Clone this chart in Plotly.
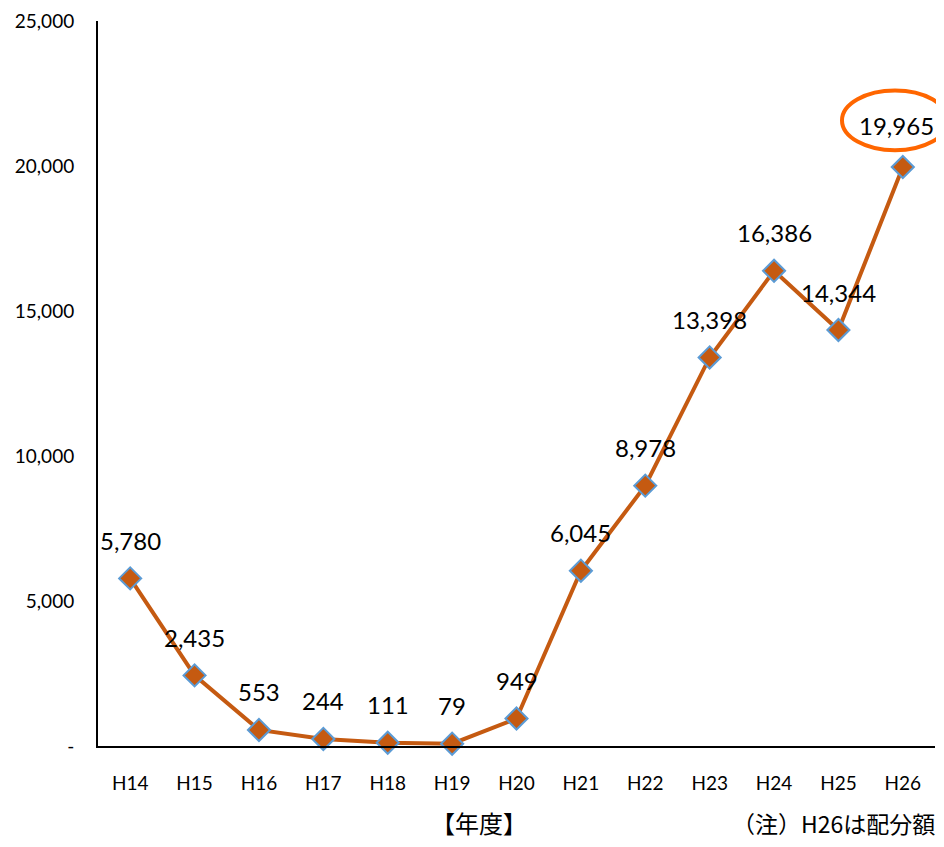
import plotly.graph_objects as go

years = ["H14", "H15", "H16", "H17", "H18", "H19", "H20", "H21", "H22", "H23", "H24", "H25", "H26"]
values = [5780, 2435, 553, 244, 111, 79, 949, 6045, 8978, 13398, 16386, 14344, 19965]
y_ticks = [0, 5000, 10000, 15000, 20000, 25000]
y_tick_labels = ["-", "5,000", "10,000", "15,000", "20,000", "25,000"]

# plot area in page pixels (figure is drawn with an 8px body margin)
PL, PR, PT, PB = 98, 935, 17, 746
PW, PH = PR - PL, PB - PT

fig = go.Figure()
fig.add_trace(go.Scatter(
    x=years, y=values, mode="lines+markers",
    line=dict(color="#C55A11", width=4),
    marker=dict(symbol="diamond", size=17, color="#C55A11",
                line=dict(color="#5B9BD5", width=2)),
    hoverinfo="skip", showlegend=False, cliponaxis=False,
))

for i, (yr, v) in enumerate(zip(years, values)):
    last = i == len(values) - 1
    fig.add_annotation(
        x=yr, y=v, text=f"{v:,}", showarrow=False,
        yshift=42 if last else 38, xshift=-6 if last else 0,
        font=dict(family="Lato, Noto Sans", size=24, color="#000000"),
    )

fig.add_shape(type="circle", xref="paper", yref="paper",
              x0=(842 - PL) / PW, x1=(948 - PL) / PW,
              y0=(PB - 147) / PH, y1=(PB - 87) / PH,
              line=dict(color="#FF6600", width=4))

fig.add_annotation(xref="paper", yref="paper", x=(479 - PL) / PW, y=(PB - 823) / PH,
                   text="【年度】", showarrow=False, xanchor="center", yanchor="middle",
                   font=dict(family="Noto Sans CJK JP", size=24, color="#000000"))
fig.add_annotation(xref="paper", yref="paper", x=(937 - PL) / PW, y=(PB - 823) / PH,
                   text="（注）H26は配分額", showarrow=False, xanchor="right", yanchor="middle",
                   font=dict(family="Noto Sans CJK JP", size=23, color="#000000"))

fig.update_layout(
    width=928, height=831,
    margin=dict(l=90, r=1, t=9, b=93),
    paper_bgcolor="white", plot_bgcolor="white",
    xaxis=dict(type="category", range=[-0.5, 12.5], showgrid=False, zeroline=False,
               showline=True, linecolor="#000000", linewidth=2, ticks="",
               ticklabelstandoff=19,
               tickfont=dict(family="Lato, Noto Sans", size=19, color="#000000")),
    yaxis=dict(range=[0, 25000], tickvals=y_ticks, ticktext=y_tick_labels,
               showgrid=False, zeroline=False, showline=True, linecolor="#000000",
               linewidth=2, ticks="", ticklabelstandoff=18, ticklabeloverflow="allow",
               tickfont=dict(family="Lato, Noto Sans", size=19, color="#000000")),
)

fig.write_html("out.html")
